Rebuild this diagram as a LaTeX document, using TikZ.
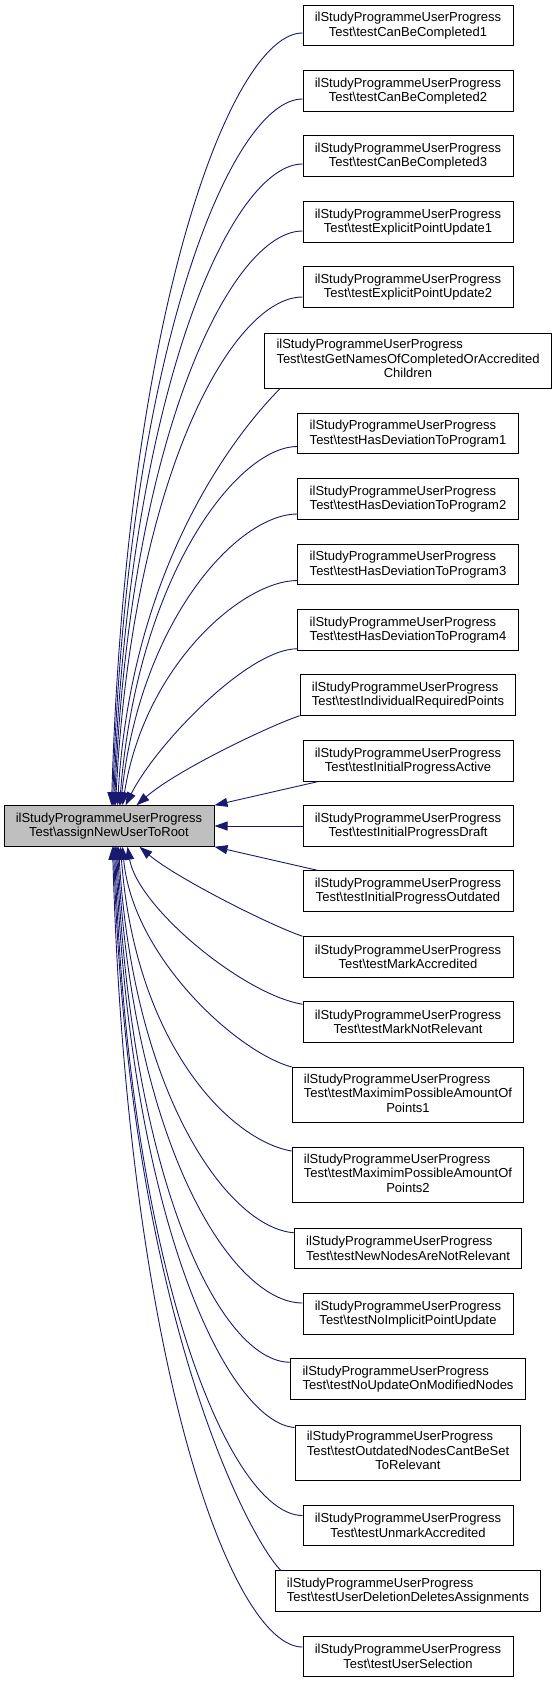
\documentclass[tikz,border=0pt]{standalone}
\usepackage{fontspec}
\setmainfont{Liberation Sans}
\usetikzlibrary{arrows.meta}
\definecolor{midnight}{HTML}{191970}
\definecolor{fngrey}{HTML}{BFBFBF}

\tikzset{
  fnbase/.style={draw=black, line width=1bp, fill=white, inner xsep=11.8bp,
    inner ysep=2bp, minimum height=40.5bp,
    font=\fontsize{13bp}{14.5bp}\selectfont},
  fn/.style={fnbase, align=center},
  fnleft/.style={fnbase, align=left},
  fntall/.style={fnbase, minimum height=55bp},
  fnmain/.style={fn, fill=fngrey},
  calls/.style={draw=midnight, line width=0.9bp,
    -{Triangle[length=13bp, width=9bp]}}
}
\newcommand{\cls}{ilStudyProgrammeUserProgress\\Test\textbackslash}
\newcommand{\tallname}[2]{\begin{tabular}{@{}l@{}}ilStudyProgrammeUserProgress\\
  Test\textbackslash #1\\\multicolumn{1}{@{}c@{}}{#2}\end{tabular}}

\begin{document}
\begin{tikzpicture}[x=1bp, y=-1bp]
  \useasboundingbox (0,0) rectangle (559,1683);

  \node[fnmain] (main) at (109, 826) {\cls assignNewUserToRoot};

  \node[fn] (c1) at (408, 25.5) {\cls testCanBeCompleted1};
  \node[fn] (c2) at (408, 91) {\cls testCanBeCompleted2};
  \node[fn] (c3) at (408, 156) {\cls testCanBeCompleted3};
  \node[fn] (c4) at (408, 222) {\cls testExplicitPointUpdate1};
  \node[fn] (c5) at (408, 287) {\cls testExplicitPointUpdate2};
  \node[fntall] (c6) at (408, 360.5)
    {\tallname{testGetNamesOfCompletedOrAccredited}{Children}};
  \node[fnleft] (c7) at (408, 433.5) {\cls testHasDeviationToProgram1};
  \node[fnleft] (c8) at (408, 499) {\cls testHasDeviationToProgram2};
  \node[fnleft] (c9) at (408, 564.5) {\cls testHasDeviationToProgram3};
  \node[fnleft] (c10) at (408, 630) {\cls testHasDeviationToProgram4};
  \node[fnleft] (c11) at (408, 695) {\cls testIndividualRequiredPoints};
  \node[fn] (c12) at (408, 761) {\cls testInitialProgressActive};
  \node[fn] (c13) at (408, 826) {\cls testInitialProgressDraft};
  \node[fn] (c14) at (408, 891) {\cls testInitialProgressOutdated};
  \node[fn] (c15) at (408, 957) {\cls testMarkAccredited};
  \node[fn] (c16) at (408, 1022) {\cls testMarkNotRelevant};
  \node[fntall] (c17) at (408, 1095)
    {\tallname{testMaximimPossibleAmountOf}{Points1}};
  \node[fntall] (c18) at (408, 1175)
    {\tallname{testMaximimPossibleAmountOf}{Points2}};
  \node[fnleft] (c19) at (408, 1248.5) {\cls testNewNodesAreNotRelevant};
  \node[fn] (c20) at (408, 1314) {\cls testNoImplicitPointUpdate};
  \node[fnleft] (c21) at (408, 1379) {\cls testNoUpdateOnModifiedNodes};
  \node[fntall] (c22) at (408, 1452.5)
    {\tallname{testOutdatedNodesCantBeSet}{ToRelevant}};
  \node[fn] (c23) at (408, 1525.5) {\cls testUnmarkAccredited};
  \node[fnleft] (c24) at (408, 1591) {\cls testUserDeletionDeletesAssignments};
  \node[fn] (c25) at (408, 1656.5) {\cls testUserSelection};

  % callers above
  \draw[calls] ([yshift=-7.5bp]c1.west) .. controls +(-70,0) and +(15,-500) .. ([xshift=108bp]main.north west);
  \draw[calls] ([yshift=-8bp]c2.west) .. controls +(-70,0) and +(15,-460) .. ([xshift=109bp]main.north west);
  \draw[calls] ([yshift=-8bp]c3.west) .. controls +(-70,0) and +(16,-420) .. ([xshift=110bp]main.north west);
  \draw[calls] ([yshift=-9bp]c4.west) .. controls +(-70,0) and +(16,-375) .. ([xshift=111bp]main.north west);
  \draw[calls] ([yshift=-10bp]c5.west) .. controls +(-70,0) and +(17,-330) .. ([xshift=112bp]main.north west);
  \draw[calls] ([xshift=16bp]c6.south west) .. controls +(-25,25) and +(15,-260) .. ([xshift=114bp]main.north west);
  \draw[calls] ([yshift=-13bp]c7.west) .. controls +(-60,0) and +(18,-230) .. ([xshift=116bp]main.north west);
  \draw[calls] ([yshift=-15bp]c8.west) .. controls +(-60,0) and +(20,-185) .. ([xshift=117bp]main.north west);
  \draw[calls] ([yshift=-16bp]c9.west) .. controls +(-55,0) and +(22,-140) .. ([xshift=119bp]main.north west);
  \draw[calls] ([yshift=2bp]c10.south west) .. controls +(-50,0) and +(30,-60) .. ([xshift=122bp]main.north west);
  \draw[calls] (c11.south west) .. controls +(-30,10) and +(40,-35) .. ([xshift=133bp]main.north west);

  % straight ones
  \draw[calls] (c12) -- (main.north east);
  \draw[calls] (c13) -- (main);
  \draw[calls] (c14) -- (main.south east);

  % callers below
  \draw[calls] (c15.north west) .. controls +(-35,-12) and +(35,30) .. ([xshift=136bp]main.south west);
  \draw[calls] ([yshift=-3bp]c16.north west) .. controls +(-60,-10) and +(10,60) .. ([xshift=124bp]main.south west);
  \draw[calls] (c17.north west) .. controls +(-55,-15) and +(10,110) .. ([xshift=119bp]main.south west);
  \draw[calls] ([yshift=-4bp]c18.north west) .. controls +(-60,-10) and +(15,200) .. ([xshift=117bp]main.south west);
  \draw[calls] ([yshift=-5bp]c19.north west) .. controls +(-65,-5) and +(15,250) .. ([xshift=115bp]main.south west);
  \draw[calls] ([yshift=11bp]c20.west) .. controls +(-70,0) and +(15,300) .. ([xshift=114bp]main.south west);
  \draw[calls] ([yshift=-4bp]c21.north west) .. controls +(-70,0) and +(15,335) .. ([xshift=113bp]main.south west);
  \draw[calls] ([yshift=-3bp]c22.north west) .. controls +(-65,-5) and +(15,380) .. ([xshift=112bp]main.south west);
  \draw[calls] ([yshift=10bp]c23.west) .. controls +(-70,0) and +(15,435) .. ([xshift=111bp]main.south west);
  \draw[calls] ([xshift=6bp]c24.north west) .. controls +(-30,-30) and +(15,470) .. ([xshift=110bp]main.south west);
  \draw[calls] ([yshift=9.5bp]c25.west) .. controls +(-70,0) and +(15,520) .. ([xshift=109bp]main.south west);
\end{tikzpicture}
\end{document}
